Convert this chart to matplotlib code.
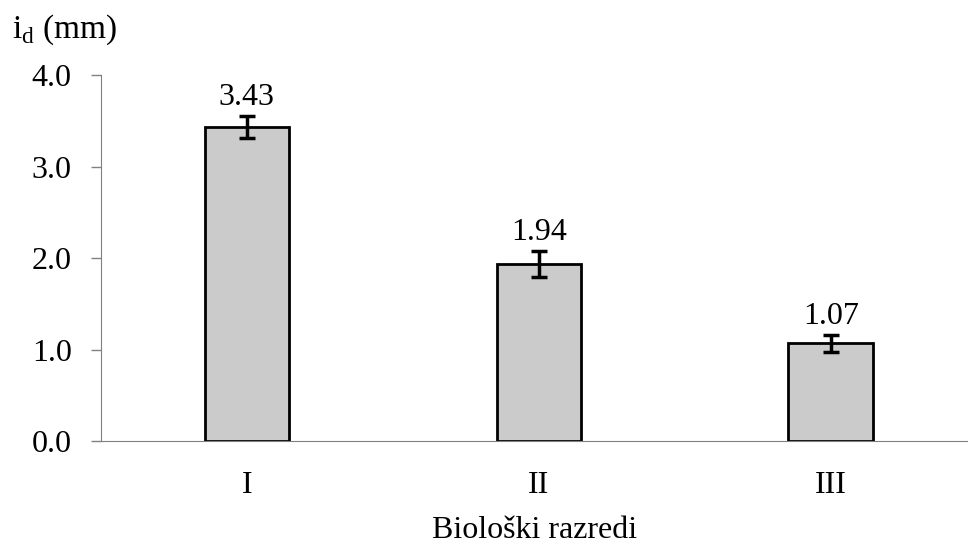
import matplotlib.pyplot as plt

plt.rcParams['font.family'] = ['Liberation Serif', 'DejaVu Serif']
plt.rcParams['mathtext.fontset'] = 'custom'
plt.rcParams['mathtext.rm'] = 'Liberation Serif'

categories = ["I", "II", "III"]
values = [3.43, 1.94, 1.07]
errors = [0.12, 0.14, 0.09]

fig = plt.figure(figsize=(9.68, 5.45), dpi=100)
ax = fig.add_axes([0.1043, 0.19, 0.8957, 0.672])

x = range(len(categories))
ax.bar(x, values, width=0.29, color="#cbcbcb", edgecolor="black", linewidth=2, zorder=2)
ax.errorbar(x, values, yerr=errors, fmt="none", ecolor="black", elinewidth=2.5,
            capsize=6, capthick=2.5, zorder=3)

for xi, v, e in zip(x, values, errors):
    ax.annotate(f"{v:.2f}", (xi, v + e), xytext=(0, 3), textcoords="offset points",
                ha="center", va="bottom", fontsize=23)

ax.set_xlim(-0.5, 2.47)
ax.set_ylim(0, 4.0)
ax.set_yticks([0, 1, 2, 3, 4])
ax.set_yticklabels([f"{t:.1f}" for t in [0, 1, 2, 3, 4]])
ax.set_xticks(list(x))
ax.set_xticklabels(categories)
ax.tick_params(axis="y", labelsize=23, length=7, color="#808080", width=1, pad=14)
ax.tick_params(axis="x", labelsize=23, length=0, pad=21)

for s in ["top", "right"]:
    ax.spines[s].set_visible(False)
ax.spines["left"].set_color("#808080")
ax.spines["bottom"].set_color("#808080")

ax.set_xlabel("Biološki razredi", fontsize=23, labelpad=12)
fig.text(0.012, 0.945, r"i$_\mathregular{d}$ (mm)", fontsize=24, va="center", ha="left")

plt.savefig("out.png", dpi=100)
